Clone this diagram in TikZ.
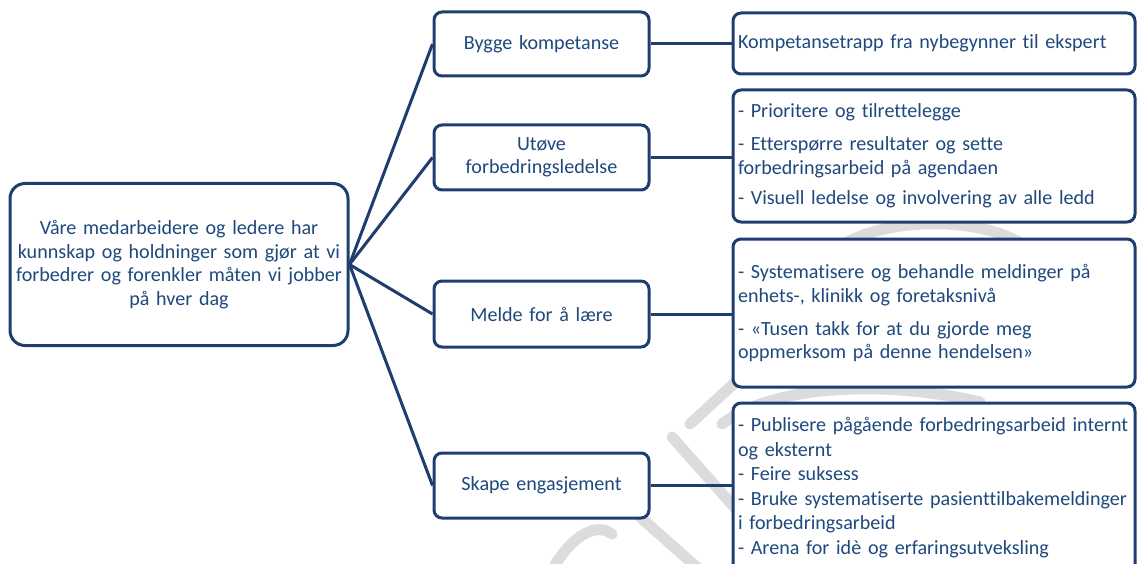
\documentclass[tikz,border=0pt]{standalone}
\usepackage{fontspec}
\setmainfont{Carlito}[Ligatures=NoCommon]
\definecolor{edge}{HTML}{1F3D6E}
\definecolor{ink}{HTML}{1F497D}
\definecolor{wm}{HTML}{DCDCDC}
\newcommand\rowtext[1]{\mbox{#1}}
\tikzset{
  box/.style={draw=edge, line width=3pt, fill=white, rounded corners=8pt,
    text=ink, inner xsep=5pt, inner ysep=0pt,
    font=\fontsize{20.1}{23.5}\selectfont},
  midbox/.style={box, align=center, minimum width=215pt, text width=205pt},
  rightbox/.style={box, align=left, minimum width=402pt, text width=392pt},
  link/.style={draw=edge, line width=3pt},
  wmstroke/.style={draw=wm, line width=11pt, line cap=round}
}
\begin{document}
\begin{tikzpicture}[x=1pt,y=-1pt]
\useasboundingbox (0,0) rectangle (1137,564);

% faint background strokes
\draw[wmstroke] (552,570) .. controls (572,535) and (596,522) .. (612,534);
\draw[wmstroke] (640,517) -- (700,570);
\draw[wmstroke] (672,437) -- (790,570);
\draw[wmstroke] (690,424) -- (740,378);
\draw[wmstroke] (722,424) .. controls (780,380) and (900,383) .. (980,402);
\draw[wmstroke] (835,250) .. controls (880,215) and (990,215) .. (1030,250);

% root
\node[box, rounded corners=15pt, align=center, minimum width=338pt,
      minimum height=162pt, text width=328pt] (root) at (179,264.5)
  {\rowtext{Våre medarbeidere og ledere har}\\
   \rowtext{kunnskap og holdninger som gjør at vi}\\
   \rowtext{forbedrer og forenkler måten vi jobber}\\
   \rowtext{på hver dag}};

% themes
\node[midbox, minimum height=64pt] (m1) at (541.5,44) {Bygge kompetanse};
\node[midbox, minimum height=65pt] (m2) at (541.5,157.5) {Utøve\\forbedringsledelse};
\node[midbox, minimum height=66pt] (m3) at (541.5,314) {Melde for å lære};
\node[midbox, minimum height=65pt] (m4) at (541.5,485.5) {Skape engasjement};

% measures
\node[rightbox, minimum height=61pt] (r1) at (934,43.5)
  {\rowtext{Kompetansetrapp fra nybegynner til ekspert}};
\node[rightbox, minimum height=132pt] (r2) at (934,156)
  {\rowtext{- Prioritere og tilrettelegge}\\[10pt]
   \rowtext{- Etterspørre resultater og sette}\\
   \rowtext{forbedringsarbeid på agendaen}\\[7pt]
   \rowtext{- Visuell ledelse og involvering av alle ledd}};
\node[rightbox, minimum height=148pt] (r3) at (934,313)
  {\rowtext{- Systematisere og behandle meldinger på}\\
   \rowtext{enhets-, klinikk og foretaksnivå}\\[9.5pt]
   \rowtext{- «Tusen takk for at du gjorde meg}\\
   \rowtext{oppmerksom på denne hendelsen»}};
\node[rightbox, minimum height=169pt, font=\fontsize{20.1}{24.5}\selectfont] (r4) at (934,487.5)
  {\rowtext{- Publisere pågående forbedringsarbeid internt}\\
   \rowtext{og eksternt}\\
   \rowtext{- Feire suksess}\\
   \rowtext{- Bruke systematiserte pasienttilbakemeldinger}\\
   \rowtext{i forbedringsarbeid}\\
   \rowtext{- Arena for idè og erfaringsutveksling}};

% connectors
\foreach \m in {m1,m2,m3,m4} \draw[link] (root.east) -- (\m.west);
\foreach \m/\r in {m1/r1,m2/r2,m3/r3,m4/r4} \draw[link] (\m.east) -- (\m.east -| \r.west);
\end{tikzpicture}
\end{document}
